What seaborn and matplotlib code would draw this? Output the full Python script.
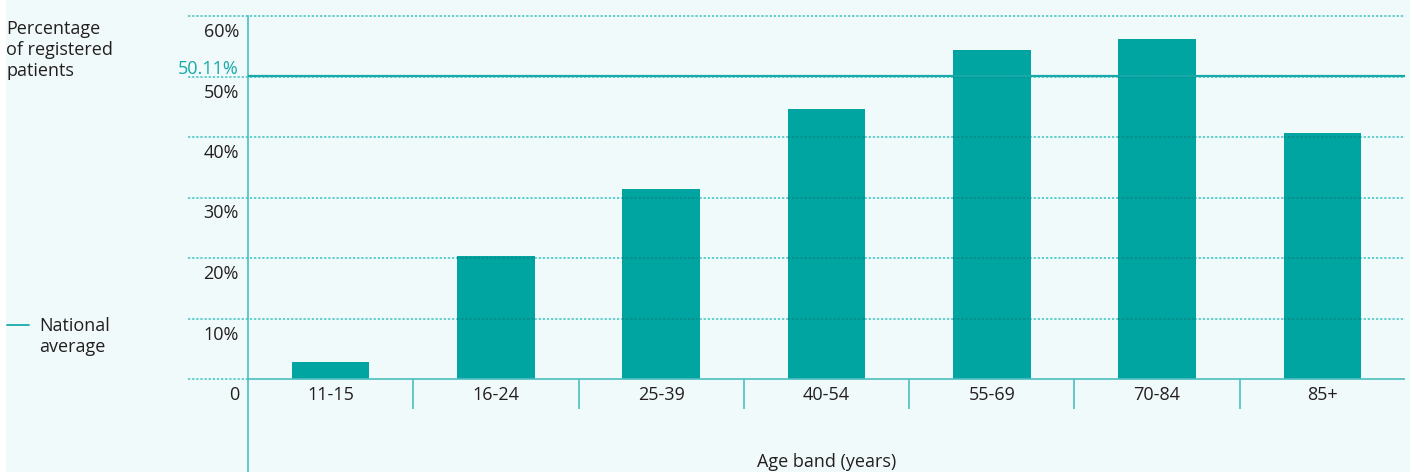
import matplotlib
matplotlib.use("Agg")
import matplotlib.pyplot as plt
import matplotlib.patches as mpatches
import matplotlib.transforms as mtransforms
import seaborn as sns
import pandas as pd

# Share of registered patients by age band
age_bands = ["11-15", "16-24", "25-39", "40-54", "55-69", "70-84", "85+"]
share_pct = [2.8, 20.3, 31.4, 44.6, 54.4, 56.2, 40.7]
national_average = 50.11
y_ticks = [0, 10, 20, 30, 40, 50, 60]
y_tick_labels = ["0", "10%", "20%", "30%", "40%", "50%", "60%"]

BAR = "#00a5a2"
GRID = "#3cc3c3"
AXIS = "#4bbfbf"
AVG = "#17a9a9"
TEXT = "#231f20"
PANEL = "#f1fafa"
FS = 13

sns.set_theme(style="white")
plt.rcParams["font.family"] = ["Open Sans", "DejaVu Sans"]

W, H = 1410, 472
fig = plt.figure(figsize=(W / 100, H / 100), dpi=100)
fig.patch.set_facecolor("white")
fig.patches.append(mpatches.Rectangle((6 / W, 0), 1 - 6 / W, 1, transform=fig.transFigure,
                                      facecolor=PANEL, edgecolor="none", zorder=-10))

# axes: x 248..1405 px, y from bottom of figure to 16 px from top
left, right, top = 248, 1405, 16
ax = fig.add_axes([left / W, 0, (right - left) / W, (H - top) / H])
ax.set_facecolor("none")

px_per_unit = (379 - 16) / 60.0
ymin = -(H - 379) / px_per_unit
ax.set_ylim(ymin, 60)

df = pd.DataFrame({"band": age_bands, "share": share_pct})
sns.barplot(data=df, x="band", y="share", color=BAR, width=0.47, saturation=1,
            edgecolor="none", ax=ax, zorder=2)
ax.set_xlim(-0.5, len(age_bands) - 0.5)

for s in ["top", "right", "bottom"]:
    ax.spines[s].set_visible(False)
ax.spines["left"].set_color(AXIS)
ax.spines["left"].set_linewidth(1.2)
ax.set_xticks([])
ax.set_yticks([])
ax.set_xlabel("")
ax.set_ylabel("")

# dotted gridlines, extending left of the axis
ext = (188 - left) / (right - left)
for v in y_ticks[1:]:
    ax.axhline(v, xmin=ext, xmax=1, color=GRID, lw=1.1, ls=(0, (1.5, 1.2)),
               zorder=1, clip_on=False)
ax.axhline(0, xmin=ext, xmax=0, color=GRID, lw=1.1, ls=(0, (1.5, 1.2)),
           zorder=1, clip_on=False)
# darker dots where gridlines cross the bars
for p in ax.patches:
    x0, w, h = p.get_x(), p.get_width(), p.get_height()
    for v in y_ticks[1:]:
        if v < h:
            ax.hlines(v, x0, x0 + w, color="#0a8a88", lw=1.1, ls=(0, (1.5, 1.2)), zorder=3)

# baseline and category separators
ax.axhline(0, color=AXIS, lw=1.2, zorder=4)
sep_depth = (409 - 379) / px_per_unit
ax.vlines([i + 0.5 for i in range(len(age_bands) - 1)], -sep_depth, 0,
          color=AXIS, lw=1.2, zorder=4)

# national average
ax.axhline(national_average, color=AVG, lw=1.6, zorder=5)

# y tick labels sit below their gridlines
off = 16 / px_per_unit
ytrans = mtransforms.blended_transform_factory(fig.transFigure, ax.transData)
for v, lab in zip(y_ticks, y_tick_labels):
    ax.text(239 / W, v - off, lab, transform=ytrans, ha="right", va="center",
            fontsize=FS, color=TEXT)
ax.text(239 / W, national_average + 7 / px_per_unit, f"{national_average:.2f}%",
        transform=ytrans, ha="right", va="center", fontsize=FS, color=AVG)

# category labels
for i, lab in enumerate(age_bands):
    ax.text(i, -off, lab, ha="center", va="center", fontsize=FS, color=TEXT)

fig.text((left + right) / 2 / W, 1 - 462 / H, "Age band (years)", ha="center",
         va="center", fontsize=FS, color=TEXT)

# axis title and legend in the left margin
fig.text(6 / W, 1 - 20 / H, "Percentage\nof registered\npatients", ha="left",
         va="top", fontsize=FS, color=TEXT, linespacing=1.2)
fig.add_artist(plt.Line2D([7 / W, 29 / W], [1 - 325 / H, 1 - 325 / H],
                          color=AVG, lw=1.3, transform=fig.transFigure))
fig.text(39 / W, 1 - 317 / H, "National\naverage", ha="left", va="top",
         fontsize=FS, color=TEXT, linespacing=1.2)

fig.savefig("out.png", dpi=100, facecolor=fig.get_facecolor())
